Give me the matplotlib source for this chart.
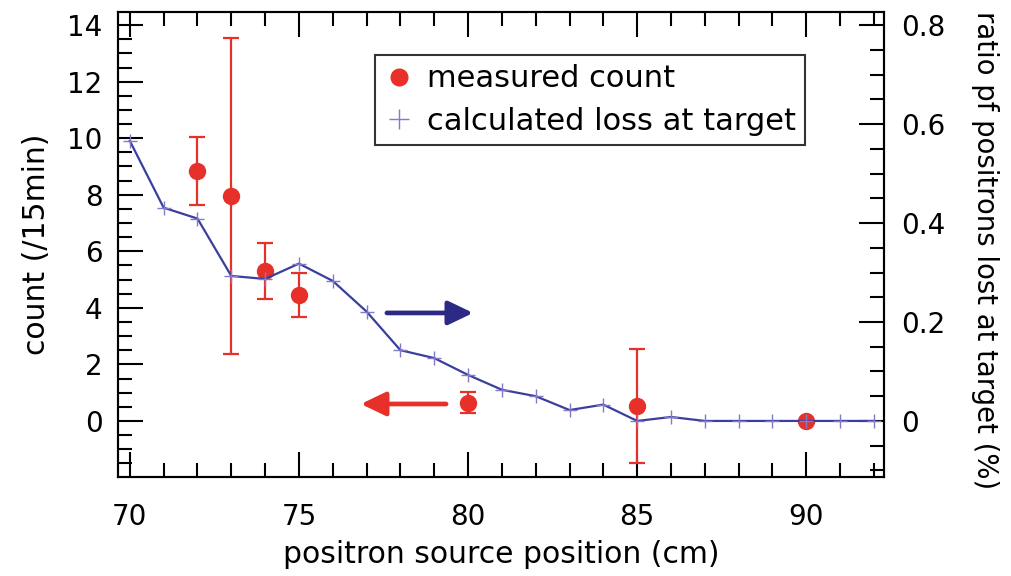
import matplotlib.pyplot as plt
from matplotlib.lines import Line2D
from matplotlib.ticker import MultipleLocator

plt.rcParams['font.family'] = ['DejaVu Sans']

# calculated loss at target (ratio, %)
calc_x = list(range(70, 93))
calc_y = [0.566, 0.431, 0.409, 0.293, 0.287, 0.318, 0.283, 0.221, 0.143, 0.127,
          0.093, 0.063, 0.050, 0.022, 0.033, 0.0, 0.008, 0.0, 0.0, 0.0, 0.0, 0.0, 0.0]

# measured count (/15min)
meas_x = [72, 73, 74, 75, 80, 85, 90]
meas_y = [8.85, 7.96, 5.31, 4.46, 0.64, 0.53, 0.0]
meas_err = [1.2, 5.6, 1.0, 0.78, 0.37, 2.0, 0.0]

red = '#e8302a'
navy = '#3a3f9e'
plus_c = '#8478c8'
scale = 0.8 / 14

fig = plt.figure(figsize=(10.12, 5.76), dpi=100)
ax = fig.add_axes([0.1166, 0.172, 0.757, 0.807])
ax2 = ax.twinx()

ax.errorbar(meas_x, meas_y, yerr=meas_err, fmt='o', color=red, ms=11.5,
            elinewidth=1.6, capsize=6, capthick=1.6, zorder=3)
ax2.plot(calc_x, calc_y, color=navy, lw=1.6, marker='+', ms=10,
         mec=plus_c, mew=1.0, zorder=4)

ax.set_xlim(69.65, 92.3)
ax.set_ylim(-1.98, 14.46)
ax2.set_ylim(-1.98 * scale, 14.46 * scale)

ax.xaxis.set_major_locator(MultipleLocator(5))
ax.xaxis.set_minor_locator(MultipleLocator(1))
ax.yaxis.set_major_locator(MultipleLocator(2))
ax.yaxis.set_minor_locator(MultipleLocator(0.5))
ax2.yaxis.set_minor_locator(MultipleLocator(0.05))
ax2.set_yticks([0, 0.2, 0.4, 0.6, 0.8])
ax2.set_yticklabels(['0', '0.2', '0.4', '0.6', '0.8'])

ax.tick_params(axis='x', which='both', direction='in', top=True, width=1.5, labelsize=20, pad=19)
ax.tick_params(axis='y', which='both', direction='in', width=1.5, labelsize=20, pad=11)
ax.tick_params(which='major', length=18)
ax.tick_params(which='minor', length=10)
ax2.tick_params(axis='y', which='both', direction='in', width=1.5, labelsize=20, pad=12)
ax2.tick_params(which='major', length=18)
ax2.tick_params(which='minor', length=10)

for a in (ax, ax2):
    for s in a.spines.values():
        s.set_linewidth(1.5)

ax.set_xlabel('positron source position (cm)', fontsize=21.5, labelpad=6)
ax.set_ylabel('count (/15min)', fontsize=21.5, labelpad=12)
ax2.set_ylabel('ratio pf positrons lost at target (%)', fontsize=19.8,
               rotation=270, labelpad=30)
ax2.yaxis.set_label_coords(1.15, 0.488)

# direction arrows
arrow_kw = dict(arrowstyle='-|>,head_length=0.75,head_width=0.36',
                mutation_scale=20, lw=3.4, shrinkA=0, shrinkB=0)
ax.annotate('', xy=(80.15, 3.82), xytext=(77.6, 3.82),
            arrowprops=dict(color='#2d2a85', **arrow_kw))
ax.annotate('', xy=(76.83, 0.60), xytext=(79.35, 0.60),
            arrowprops=dict(color=red, **arrow_kw))

handles = [
    Line2D([], [], ls='none', marker='o', color=red, ms=12),
    Line2D([], [], ls='none', marker='+', color=plus_c, ms=15, mew=1.0),
]
leg = ax2.legend(handles, ['measured count', 'calculated loss at target'],
                 loc='upper left', bbox_to_anchor=(0.3355, 0.9075), borderaxespad=0,
                 fontsize=22, frameon=True, fancybox=False, handletextpad=0.4,
                 borderpad=0.3, labelspacing=0.45, handlelength=1.0)
leg.get_frame().set_edgecolor('black')
leg.get_frame().set_linewidth(1.5)

fig.savefig('out.png', dpi=100)
